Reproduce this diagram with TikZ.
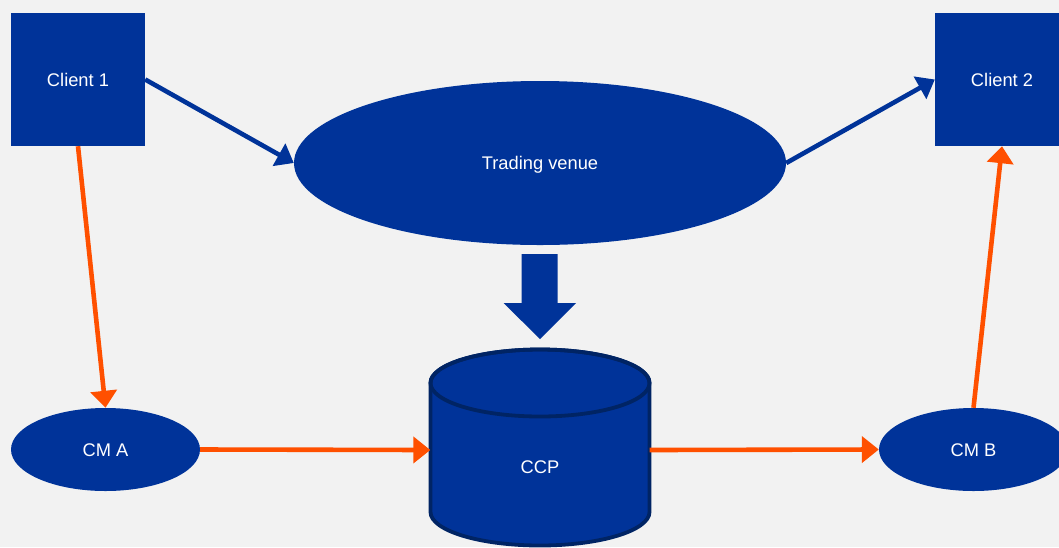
\documentclass[tikz,border=0pt]{standalone}
\usepackage{fontspec}
\setmainfont{Liberation Sans}
\usetikzlibrary{shapes.geometric,arrows.meta}
\definecolor{navy}{RGB}{0,51,153}
\definecolor{orng}{RGB}{255,80,0}
\definecolor{dnavy}{RGB}{0,36,100}
\definecolor{bg}{RGB}{242,242,242}
\begin{document}
\begin{tikzpicture}[x=1pt,y=-1pt,
  lbl/.style={text=white,font=\fontsize{18.3}{21}\selectfont,text height=13pt,text depth=0pt},
  box/.style={rectangle,fill=navy,minimum width=134pt,minimum height=133pt,inner sep=0pt,lbl},
  oval/.style={ellipse,fill=navy,inner sep=0pt,lbl},
  bluearrow/.style={draw=navy,line width=4.6pt,-{Triangle[length=17pt,width=25pt]}},
  orangearrow/.style={draw=orng,line width=4.6pt,-{Triangle[length=17pt,width=26pt]}},
  cylfill/.style={fill=navy,draw=dnavy,line width=3.8pt},
  blockarrow/.style={fill=navy}]
\useasboundingbox (0,0) rectangle (1059,547);
\clip (0,0) rectangle (1059,547);
\fill[bg] (0,0) rectangle (1059,547);

% nodes
\node[box] (client1) at (78,79.5) {Client 1};
\node[box] (client2) at (1002,79.5) {Client 2};
\node[oval,minimum width=492pt,minimum height=164pt] (venue) at (540,163) {Trading venue};
\node[oval,minimum width=189pt,minimum height=83pt] (cma) at (105.5,449.5) {CM A};
\node[oval,minimum width=189pt,minimum height=83pt] (cmb) at (973.5,449.5) {CM B};

% CCP cylinder
\path[cylfill] (430.5,383) -- (430.5,512) arc[start angle=180,end angle=360,x radius=109.5pt,y radius=33.5pt]
  -- (649.5,383) arc[start angle=0,end angle=180,x radius=109.5pt,y radius=33.5pt] -- cycle;
\draw[draw=dnavy,line width=3.8pt] (540,383) ellipse[x radius=109.5pt,y radius=33.5pt];
\node[inner sep=0pt,minimum width=219pt,minimum height=190pt] (ccp) at (540,450) {};
\node[lbl] (ccplabel) at (540,466.5) {CCP};

% block arrow from venue to CCP
\fill[blockarrow] (521.5,254) -- (557.5,254) -- (557.5,303) -- (576,303) -- (540,339) -- (503.5,303) -- (521.5,303) -- cycle;

% connectors
\draw[bluearrow] (client1.east) -- (venue.west);
\draw[bluearrow] (venue.east) -- (client2.west);
\draw[orangearrow] (client1.south) -- (cma.north);
\draw[orangearrow] (cmb.north) -- (client2.south);
\draw[orangearrow] (cma.east) -- (ccp.west);
\draw[orangearrow] (ccp.east) -- (cmb.west);
\end{tikzpicture}
\end{document}
